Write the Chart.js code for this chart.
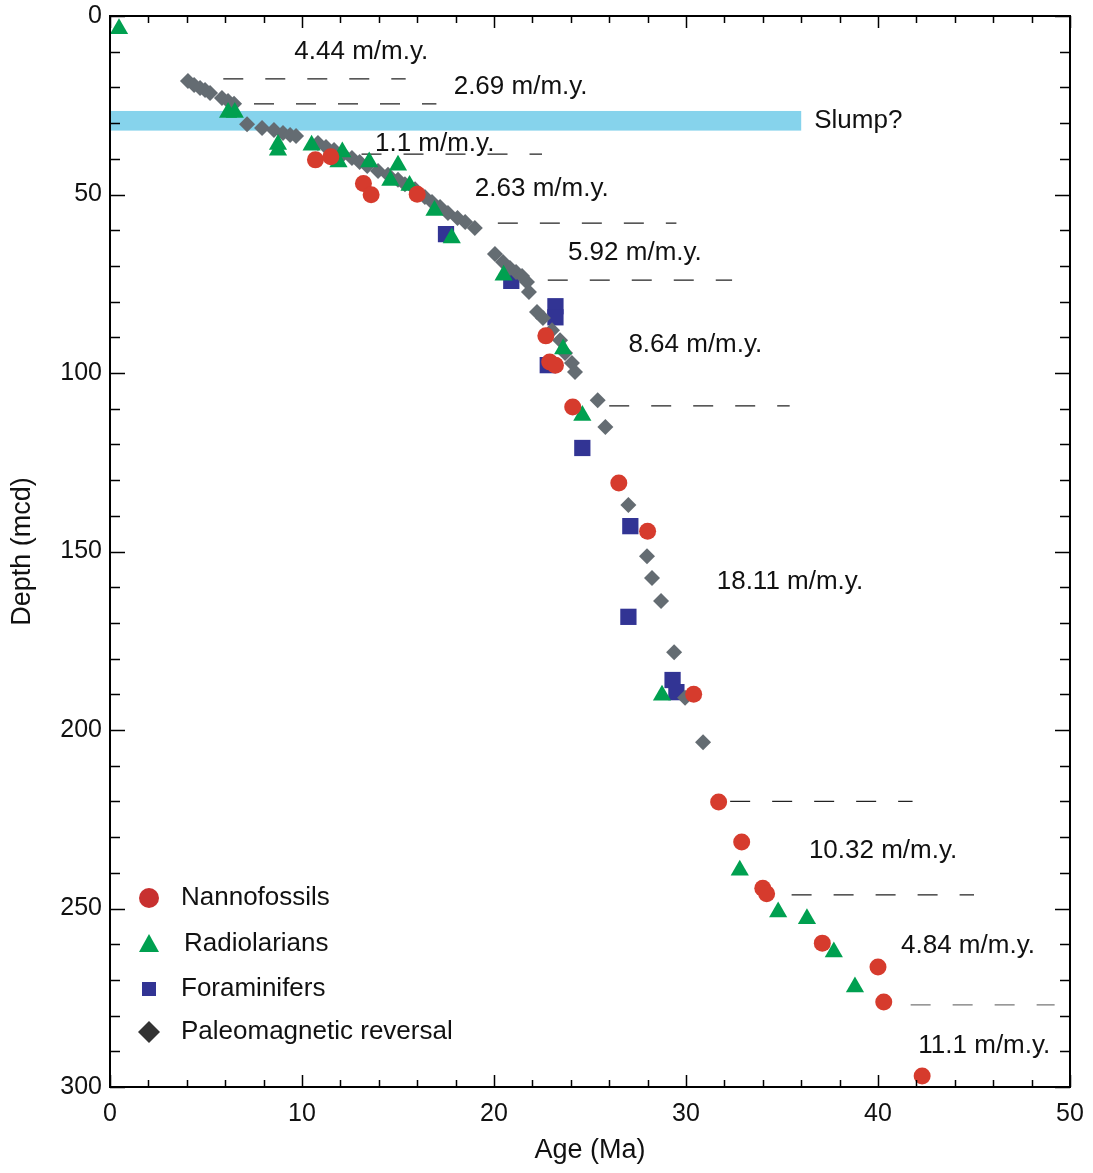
<!DOCTYPE html>
<html lang="en">
<head>
<meta charset="UTF-8">
<title>Age-depth plot</title>
<script src="https://cdn.jsdelivr.net/npm/chart.js"></script>
<style>
    html, body { margin: 0; padding: 0; background: #fff; }
    #wrap { width: 1093px; height: 1173px; }
</style>
</head>
<body>
<div id="wrap"><canvas id="grafico" width="1093" height="1173"></canvas></div>
<script>
    // datums [age (Ma), depth (mcd)]
    const nannofossils = [
        [10.7, 40.3], [11.5, 39.4], [13.2, 46.9], [13.6, 50.1], [16.0, 49.9],
        [22.7, 89.6], [22.9, 96.9], [23.2, 97.8], [24.1, 109.5], [26.5, 130.8],
        [28.0, 144.3], [30.4, 190.0], [31.7, 220.2], [32.9, 231.4], [34.0, 244.3],
        [34.2, 245.9], [37.1, 259.7], [40.0, 266.4], [40.3, 276.2], [42.3, 296.9]
    ];
    const radiolarians = [
        [0.47, 3.6], [6.15, 27.0], [6.5, 27.0], [8.75, 36.0], [8.75, 37.6], [10.5, 36.2],
        [12.1, 38.1], [11.9, 40.9], [13.5, 40.9], [15.0, 41.8], [14.6, 46.1], [15.6, 47.5],
        [16.9, 54.5], [17.8, 62.2], [20.5, 72.6], [23.6, 93.3], [24.6, 111.9], [28.75, 190.3],
        [32.8, 239.3], [34.8, 251.0], [36.3, 252.9], [37.7, 262.2], [38.8, 272.0]
    ];
    const foraminifers = [
        [17.5, 61.1], [20.9, 74.2], [23.2, 81.3], [23.2, 84.4], [22.8, 97.8],
        [24.6, 121.0], [27.1, 142.9], [27.0, 168.3], [29.3, 186.0], [29.5, 189.4]
    ];
    const paleomag = [
        [4.06, 18.2], [4.38, 19.3], [4.69, 20.2], [4.95, 20.7], [5.21, 21.6], [5.83, 23.0],
        [6.15, 23.8], [6.46, 24.6], [7.14, 30.3], [7.92, 31.4], [8.54, 31.9], [9.01, 32.8],
        [9.38, 33.3], [9.69, 33.6], [10.83, 35.6], [11.25, 36.7], [11.67, 37.5], [12.14, 38.7],
        [12.6, 39.8], [13.0, 40.9], [13.4, 42.0], [13.96, 43.4], [14.48, 44.5], [15.0, 45.9],
        [15.36, 47.1], [15.89, 48.5], [16.4, 50.7], [16.77, 52.1], [17.19, 53.5], [17.6, 55.2],
        [18.1, 56.6], [18.5, 57.7], [19.0, 59.4], [20.05, 66.7], [20.47, 68.9], [20.83, 70.6],
        [21.15, 71.7], [21.46, 72.8], [21.72, 74.5], [21.82, 77.3], [22.24, 82.9], [22.55, 84.6],
        [23.02, 88.0], [23.44, 90.8], [23.7, 94.4], [24.06, 97.2], [24.22, 99.7], [25.4, 107.6],
        [25.8, 115.1], [27.0, 137.0], [27.97, 151.3], [28.23, 157.4], [28.7, 163.9],
        [29.38, 178.2], [29.95, 191.0], [30.89, 203.4]
    ];

    // sedimentation rate breaks (dashed lines)
    const breakDepth = [17.6, 24.6, 38.7, 58.0, 74.0, 109.2, 220.0, 246.2, 277.0];
    const breakStart = [5.9, 7.5, 13.1, 20.2, 22.8, 26.0, 32.3, 35.5, 41.7];
    const breakEnd = [15.4, 17.0, 22.5, 29.5, 32.4, 35.4, 41.8, 45.0, 49.2];

    // rate labels
    const rateText = ['4.44 m/m.y.', '2.69 m/m.y.', '1.1 m/m.y.', '2.63 m/m.y.', '5.92 m/m.y.',
        '8.64 m/m.y.', '18.11 m/m.y.', '10.32 m/m.y.', '4.84 m/m.y.', '11.1 m/m.y.'];
    const rateAge = [9.6, 17.9, 13.8, 19.0, 23.85, 27.0, 31.6, 36.4, 41.2, 42.1];
    const rateDepth = [10.1, 19.9, 35.9, 48.5, 66.4, 92.2, 158.5, 233.9, 260.5, 288.5];

    // slump interval
    const slumpTop = 26.6;
    const slumpBottom = 32.1;
    const slumpEnd = 36.0;

    const xTicks = [0, 10, 20, 30, 40, 50];
    const yTicks = [0, 50, 100, 150, 200, 250, 300];

    const fonte = '"Liberation Sans", Arial, Helvetica, sans-serif';
    const cores = {
        nanno: 'rgb(214, 59, 45)',
        radio: 'rgb(0, 160, 80)',
        fora: 'rgb(50, 52, 148)',
        paleo: 'rgb(100, 108, 114)'
    };

    const pts = arr => arr.map(p => ({ x: p[0], y: p[1] }));

    const linhas = breakDepth.map((d, i) => ({
        type: 'line',
        data: [{ x: breakStart[i], y: d }, { x: breakEnd[i], y: d }],
        borderColor: i === breakDepth.length - 1 ? '#777' : '#222',
        borderWidth: 1.3,
        borderDash: [20, 22],
        pointRadius: 0,
        fill: false,
        order: 10
    }));

    // slump band + labels + box with inward ticks + legend
    const extras = {
        id: 'extras',
        beforeDatasetsDraw(chart) {
            const { ctx, scales: { x, y } } = chart;
            ctx.save();
            ctx.fillStyle = 'rgb(134, 211, 236)';
            const y1 = y.getPixelForValue(slumpTop), y2 = y.getPixelForValue(slumpBottom);
            const x1 = x.getPixelForValue(0), x2 = x.getPixelForValue(slumpEnd);
            ctx.fillRect(x1, y1, x2 - x1, y2 - y1);
            ctx.fillStyle = '#111';
            ctx.font = '26px ' + fonte;
            ctx.textBaseline = 'middle';
            ctx.fillText('Slump?', x2 + 13, (y1 + y2) / 2);
            ctx.restore();
        },
        afterDraw(chart) {
            const { ctx, chartArea: a, scales: { x, y } } = chart;
            ctx.save();
            ctx.fillStyle = '#111';
            ctx.font = '26px ' + fonte;
            ctx.textBaseline = 'middle';
            rateText.forEach((t, i) => {
                ctx.fillText(t, x.getPixelForValue(rateAge[i]), y.getPixelForValue(rateDepth[i]));
            });

            // box
            ctx.strokeStyle = '#000';
            ctx.lineWidth = 2;
            ctx.strokeRect(a.left, a.top, a.right - a.left, a.bottom - a.top);

            // inward ticks
            ctx.lineWidth = 1.5;
            ctx.beginPath();
            x.ticks.forEach(t => {
                const px = Math.round(x.getPixelForValue(t.value)) + 0.5;
                const len = t.value % 10 === 0 ? 12 : 7;
                ctx.moveTo(px, a.bottom); ctx.lineTo(px, a.bottom - len);
                ctx.moveTo(px, a.top); ctx.lineTo(px, a.top + len);
            });
            y.ticks.forEach(t => {
                const py = Math.round(y.getPixelForValue(t.value)) + 0.5;
                const len = t.value % 50 === 0 ? 15 : 10;
                ctx.moveTo(a.left, py); ctx.lineTo(a.left + len, py);
                ctx.moveTo(a.right, py); ctx.lineTo(a.right - len, py);
            });
            ctx.stroke();

            // legend
            const lx = a.left + 39, tx = a.left + 71;
            const rows = [a.bottom - 189, a.bottom - 143, a.bottom - 98, a.bottom - 55];
            ctx.fillStyle = 'rgb(200, 48, 47)';
            ctx.beginPath(); ctx.arc(lx, rows[0], 10, 0, Math.PI * 2); ctx.fill();
            ctx.fillStyle = cores.radio;
            ctx.beginPath();
            ctx.moveTo(lx, rows[1] - 10); ctx.lineTo(lx + 10, rows[1] + 8); ctx.lineTo(lx - 10, rows[1] + 8);
            ctx.closePath(); ctx.fill();
            ctx.fillStyle = cores.fora;
            ctx.fillRect(lx - 7, rows[2] - 7, 14, 14);
            ctx.fillStyle = '#333';
            ctx.beginPath();
            ctx.moveTo(lx, rows[3] - 11); ctx.lineTo(lx + 11, rows[3]); ctx.lineTo(lx, rows[3] + 11); ctx.lineTo(lx - 11, rows[3]);
            ctx.closePath(); ctx.fill();
            ctx.fillStyle = '#111';
            ctx.fillText('Nannofossils', tx, rows[0]);
            ctx.fillText('Radiolarians', tx + 3, rows[1]);
            ctx.fillText('Foraminifers', tx, rows[2]);
            ctx.fillText('Paleomagnetic reversal', tx, rows[3]);
            ctx.restore();
        }
    };

    new Chart(document.getElementById('grafico'), {
        type: 'scatter',
        data: {
            datasets: [
                { label: 'Nannofossils', data: pts(nannofossils), backgroundColor: cores.nanno, pointStyle: 'circle', pointRadius: 8.5, borderWidth: 0, order: 1 },
                { label: 'Radiolarians', data: pts(radiolarians), backgroundColor: cores.radio, pointStyle: 'triangle', pointRadius: 10.5, borderWidth: 0, order: 2 },
                { label: 'Foraminifers', data: pts(foraminifers), backgroundColor: cores.fora, pointStyle: 'rect', pointRadius: 11.5, borderWidth: 0, order: 4 },
                { label: 'Paleomagnetic reversal', data: pts(paleomag), backgroundColor: cores.paleo, pointStyle: 'rectRot', pointRadius: 8, borderWidth: 0, order: 3 },
                ...linhas
            ]
        },
        options: {
            responsive: false,
            animation: false,
            layout: { padding: { top: 16, right: 23, left: 0, bottom: 0 } },
            plugins: { legend: { display: false }, tooltip: { enabled: false } },
            scales: {
                x: {
                    type: 'linear', min: 0, max: 50,
                    grid: { display: false, drawTicks: false },
                    border: { display: false },
                    afterFit: s => { s.height = 86; s.paddingLeft = 0; s.paddingRight = 0; },
                    ticks: {
                        stepSize: 2, autoSkip: false, maxRotation: 0, padding: 12,
                        color: '#111', font: { family: fonte, size: 25 },
                        callback: v => xTicks.includes(v) ? v : ''
                    },
                    title: { display: true, text: 'Age (Ma)', color: '#111', font: { family: fonte, size: 27 }, padding: { top: 0, bottom: 6 } }
                },
                y: {
                    type: 'linear', min: 0, max: 300, reverse: true,
                    grid: { display: false, drawTicks: false },
                    border: { display: false },
                    afterFit: s => { s.width = 110; s.paddingTop = 0; s.paddingBottom = 0; },
                    ticks: {
                        stepSize: 10, autoSkip: false, padding: 8,
                        color: '#111', font: { family: fonte, size: 25 },
                        callback: v => yTicks.includes(v) ? v : ''
                    },
                    title: { display: true, text: 'Depth (mcd)', color: '#111', font: { family: fonte, size: 27 }, padding: { top: 6, bottom: 0 } }
                }
            }
        },
        plugins: [extras]
    });
</script>
</body>
</html>
